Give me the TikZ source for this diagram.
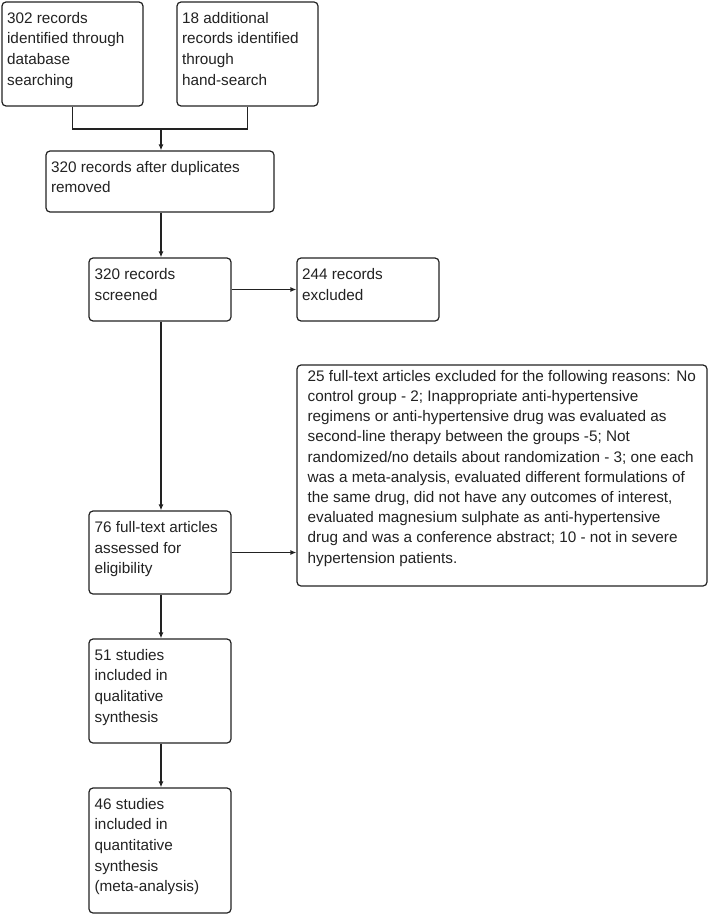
\documentclass[tikz,border=0pt]{standalone}
\usepackage{fontspec}
\setmainfont{Liberation Sans}
\usetikzlibrary{arrows.meta}
\definecolor{ink}{HTML}{222222}
\tikzset{
  boxnode/.style={draw=ink, line width=1.2pt, rounded corners=4pt, inner sep=0pt, minimum width=#1},
  txt/.style={anchor=north west, inner sep=0pt, align=left, text=ink,
    font=\fontsize{15.3}{20.6}\selectfont},
  txtg/.style={anchor=north west, inner sep=0pt, align=left, text=ink,
    font=\fontsize{15.3}{20.2}\selectfont},
  conn/.style={draw=ink, line width=1.2pt},
  arr/.style={conn, -{Latex[length=6pt,width=5pt]}}
}
\newcommand{\mkbox}[5]{% name, x1, y1, x2, y2
  \node[boxnode=#4pt-#2pt, minimum height=#5pt-#3pt] (#1) at ({(#2+#4)/2},{(#3+#5)/2}) {};}
\begin{document}
\begin{tikzpicture}[x=1pt,y=-1pt]
\useasboundingbox[fill=white] (0,0) rectangle (709,915);
\mkbox{A}{2}{2}{143}{106}
\mkbox{B}{177}{2}{318}{106}
\mkbox{C}{46}{151}{274}{212}
\mkbox{D}{89}{258}{231}{321}
\mkbox{E}{297}{258}{439}{321}
\mkbox{G}{297}{365}{707}{586}
\mkbox{F}{89}{511}{231}{594}
\mkbox{H}{89}{639}{231}{743}
\mkbox{I}{89}{788}{231}{913}

\node[txt] (tA) at ([xshift=5.5pt,yshift=-7.2pt]A.north west) {\strut 302 records\\identified through\\database\\searching};
\node[txt] (tB) at ([xshift=5.5pt,yshift=-7.2pt]B.north west) {\strut 18 additional\\records identified\\through\\hand-search};
\node[txt] (tC) at ([xshift=5.5pt,yshift=-7.2pt]C.north west) {\strut 320 records after duplicates\\removed};
\node[txt] (tD) at ([xshift=6pt,yshift=-7.6pt]D.north west) {\strut 320 records\\screened};
\node[txt] (tE) at ([xshift=5.5pt,yshift=-7.6pt]E.north west) {\strut 244 records\\excluded};
\node[txtg] (tG) at ([xshift=11pt,yshift=-2.6pt]G.north west) {\strut 25 full-text articles excluded for the following reasons: No\\
control group - 2; Inappropriate anti-hypertensive\\
regimens or anti-hypertensive drug was evaluated as\\
second-line therapy between the groups -5; Not\\
randomized/no details about randomization - 3; one each\\
was a meta-analysis, evaluated different formulations of\\
the same drug, did not have any outcomes of interest,\\
evaluated magnesium sulphate as anti-hypertensive\\
drug and was a conference abstract; 10 - not in severe\\
hypertension patients.};
\node[txt] (tF) at ([xshift=6pt,yshift=-7.4pt]F.north west) {\strut 76 full-text articles\\assessed for\\eligibility};
\node[txt] (tH) at ([xshift=6pt,yshift=-7.2pt]H.north west) {\strut 51 studies\\included in\\qualitative\\synthesis};
\node[txt] (tI) at ([xshift=6pt,yshift=-7.2pt]I.north west) {\strut 46 studies\\included in\\quantitative\\synthesis\\(meta-analysis)};

\coordinate (j) at (161,129);
\draw[conn] (A.south) -- (A.south |- j) -- (B.south |- j) -- (B.south);
\draw[arr] (j) -- (j |- C.north);
\draw[arr] (C.south -| j) -- (j |- D.north);
\draw[arr] (D.east) -- (E.west);
\draw[arr] (D.south -| j) -- (j |- F.north);
\draw[arr] (F.east) -- (F.east -| G.west);
\draw[arr] (F.south -| j) -- (j |- H.north);
\draw[arr] (H.south -| j) -- (j |- I.north);
\end{tikzpicture}
\end{document}
